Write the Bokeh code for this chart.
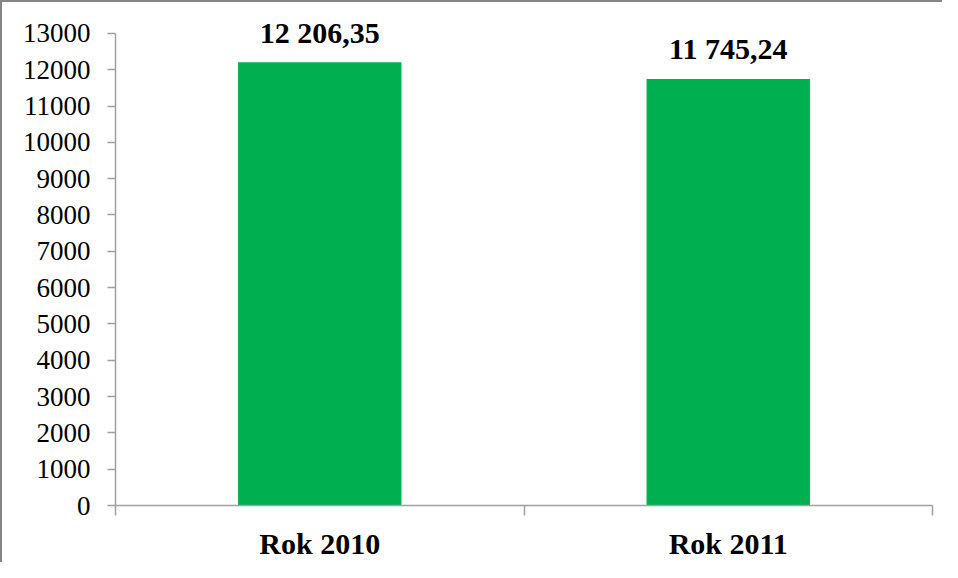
from bokeh.plotting import figure
from bokeh.models import ColumnDataSource, FixedTicker, Range1d
from bokeh.embed import file_html
from bokeh.resources import INLINE
from bokeh.core.properties import value

categories = ["Rok 2010", "Rok 2011"]
values = [12206.35, 11745.24]
y_ticks = [0, 1000, 2000, 3000, 4000, 5000, 6000, 7000, 8000, 9000, 10000, 11000, 12000, 13000]
y_max = 13000

x_pos = [i + 0.5 for i in range(len(categories))]
labels = [f"{v:,.2f}".replace(",", " ").replace(".", ",") for v in values]

# layout (pixels)
W, H = 942, 562
border_left, border_right, border_top, border_bottom = 115, 10, 2, 55
frame_h = H - border_top - border_bottom
axis_px = 474  # pixel height of 0..y_max
y_end = y_max * frame_h / axis_px

src = ColumnDataSource(dict(x=x_pos, top=values, label=labels))

p = figure(width=W, height=H, output_backend="svg", toolbar_location=None,
           x_range=Range1d(0, len(categories)), y_range=Range1d(0, y_end),
           min_border_left=border_left, min_border_right=border_right,
           min_border_top=border_top, min_border_bottom=border_bottom)
p.border_fill_color = None
p.background_fill_color = "white"
p.outline_line_color = None
p.xgrid.visible = False
p.ygrid.visible = False
p.styles = {"box-shadow": "inset 2px 2px 0 #868686"}

p.vbar(x="x", top="top", width=0.4, source=src, fill_color="#00B050", line_color=None)
p.text(x="x", y="top", text="label", source=src, text_align="center", text_baseline="alphabetic",
       y_offset=-30, text_font=value("Liberation Serif"), text_font_size="30px",
       text_font_style="bold", text_color="black")

axis_color = "#A0A0A0"
ya = p.yaxis[0]
ya.ticker = FixedTicker(ticks=y_ticks)
ya.bounds = (0, y_max)
ya.axis_line_color = axis_color
ya.axis_line_width = 1.5
ya.major_tick_line_color = axis_color
ya.major_tick_line_width = 1.5
ya.major_tick_out = 8
ya.major_tick_in = 0
ya.minor_tick_line_color = None
ya.major_label_standoff = 17
ya.major_label_text_font = "Liberation Serif"
ya.major_label_text_font_size = "27px"
ya.major_label_text_color = "black"

xa = p.xaxis[0]
xa.ticker = FixedTicker(ticks=x_pos, minor_ticks=list(range(len(categories) + 1)))
xa.major_label_overrides = {x: c for x, c in zip(x_pos, categories)}
xa.axis_line_color = axis_color
xa.axis_line_width = 1.5
xa.major_tick_line_color = None
xa.minor_tick_line_color = axis_color
xa.minor_tick_line_width = 1.5
xa.minor_tick_out = 10
xa.minor_tick_in = 0
xa.major_tick_out = 10
xa.major_label_standoff = 11
xa.major_label_text_font = "Liberation Serif"
xa.major_label_text_font_size = "30px"
xa.major_label_text_font_style = "bold"
xa.major_label_text_color = "black"

open("out.html", "w").write(file_html(p, INLINE))
